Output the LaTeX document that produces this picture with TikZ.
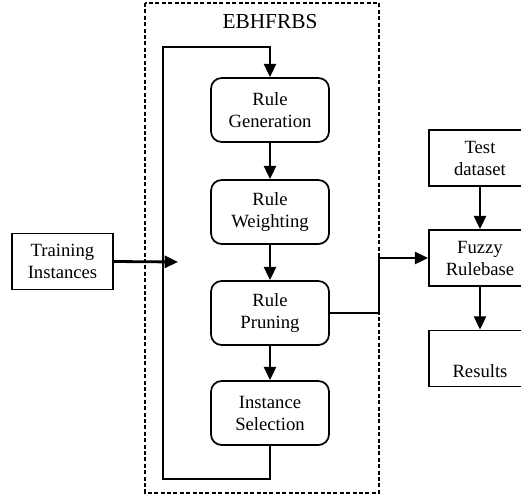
\documentclass[tikz,border=0pt]{standalone}
\usepackage{fontspec}
\setmainfont{Liberation Serif}
\usetikzlibrary{arrows.meta,positioning}

\begin{document}
\begin{tikzpicture}[
    x=0.75pt, y=-0.75pt,
    block/.style={draw, rectangle, line width=1.3pt, minimum width=75.75pt, minimum height=42pt, align=center, font=\fontsize{14}{16.5}\selectfont},
    rule/.style={block, rounded corners=8pt, minimum width=88.5pt, minimum height=48pt},
    edge/.style={-{Triangle[length=10pt,width=9pt]}, line width=2.1pt, draw=black},
    title/.style={font=\fontsize{16}{19}\selectfont},
]
\useasboundingbox (0,0) rectangle (521,500);
\clip (0,0) rectangle (521,500);

% EBHFRBS frame
\draw[dashed, dash pattern=on 3pt off 1.8pt, line width=1.1pt] (145,3) rectangle (379,493);
\node[title] (ebh) at (270,22) {EBHFRBS};

% Input
\node[block] (train) at (62.5,261.5) {Training\\Instances};

% Rule learning steps
\node[rule] (gen) at (270,110) {Rule\\Generation};
\node[rule] (weight) at (270,212) {Rule\\Weighting};
\node[rule] (prune) at (270,313) {Rule\\Pruning};
\node[rule] (sel) at (270,413) {Instance\\Selection};

% Inference
\node[block, minimum width=76.5pt] (test) at (480,158) {Test\\dataset};
\node[block, minimum width=76.5pt] (fuzzy) at (480,258) {Fuzzy\\Rulebase};
\node[block, minimum width=76.5pt] (res) at (480,358.5) {\strut\\Results};

\coordinate (loopbl) at (163,479);
\coordinate (looptl) at (163,47);
\coordinate (entry) at (178,262);
\coordinate (junc) at (379,313);

\draw[edge] (gen) -- (weight);
\draw[edge] (weight) -- (prune);
\draw[edge] (prune) -- (sel);
\draw[edge] (sel.south) |- (loopbl) -- (looptl) -| (gen.north);
\draw[edge] (train.east) -- (entry);
\draw[edge] (prune.east) -- (junc) |- (fuzzy.west);
\draw[edge] (test) -- (fuzzy);
\draw[edge] (fuzzy) -- (res);

\end{tikzpicture}
\end{document}
